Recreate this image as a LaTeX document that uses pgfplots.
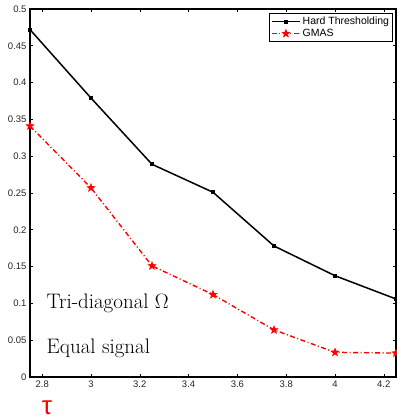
\documentclass[border=0pt]{standalone}
\usepackage{pgfplots}
\pgfplotsset{compat=1.18}
\usepackage{fontspec}
\newfontfamily\arial{Liberation Sans}
\pgfdeclareplotmark{pstar}{%
  \pgfpathmoveto{\pgfpointpolar{90}{\pgfplotmarksize}}%
  \pgfpathlineto{\pgfpointpolar{126}{0.42\pgfplotmarksize}}%
  \pgfpathlineto{\pgfpointpolar{162}{\pgfplotmarksize}}%
  \pgfpathlineto{\pgfpointpolar{198}{0.42\pgfplotmarksize}}%
  \pgfpathlineto{\pgfpointpolar{234}{\pgfplotmarksize}}%
  \pgfpathlineto{\pgfpointpolar{270}{0.42\pgfplotmarksize}}%
  \pgfpathlineto{\pgfpointpolar{306}{\pgfplotmarksize}}%
  \pgfpathlineto{\pgfpointpolar{342}{0.42\pgfplotmarksize}}%
  \pgfpathlineto{\pgfpointpolar{18}{\pgfplotmarksize}}%
  \pgfpathlineto{\pgfpointpolar{54}{0.42\pgfplotmarksize}}%
  \pgfpathclose
  \pgfusepathqfillstroke}
\begin{document}
\begin{tikzpicture}
\begin{axis}[
  scale only axis,
  width=366pt, height=368pt,
  clip=false,
  xmin=2.75, xmax=4.25, ymin=0, ymax=0.5,
  xtick={2.8,3,3.2,3.4,3.6,3.8,4,4.2},
  ytick={0,0.05,0.1,0.15,0.2,0.25,0.3,0.35,0.4,0.45,0.5},
  yticklabel style={/pgf/number format/fixed},
  xticklabel style={/pgf/number format/fixed},
  /pgf/number format/assume math mode=true,
  ticklabel style={font=\arial\fontsize{9.5}{11}\selectfont, text=black!85},
  major tick length=3pt,
  tick style={black, line width=0.6pt},
  axis line style={line width=1.2pt},
  legend style={font=\arial\fontsize{10.5}{12}\selectfont, at={(rel axis cs:0.992,0.989)}, anchor=north east,
    draw=black, line width=1pt, inner sep=1.5pt, row sep=-1pt, cells={anchor=west}},
  legend cell align=left,
  legend image code/.code={%
    \draw[#1, mark repeat=2, mark phase=2] plot coordinates {(0pt,0pt) (14pt,0pt) (28pt,0pt)};},
]
\addplot[black, line width=1.5pt, mark=square*, mark size=1.2pt] coordinates {
(2.75,0.472) (3,0.379) (3.25,0.289) (3.5,0.251) (3.75,0.178) (4,0.1376) (4.25,0.106)};
\addlegendentry{Hard Thresholding}
\addplot[red, line width=1.4pt, dash pattern=on 5pt off 2.5pt on 1pt off 2.5pt, mark=pstar, mark size=4pt, mark options={solid, fill=red, line width=0.6pt}] coordinates {
(2.75,0.341) (3,0.257) (3.25,0.151) (3.5,0.112) (3.75,0.064) (4,0.0335) (4.25,0.0325)};
\addlegendentry{GMAS}
\node[anchor=base west, font=\fontsize{21}{24}\selectfont] at (rel axis cs:0.036,0.185) {Tri-diagonal $\Omega$};
\node[anchor=base west, font=\fontsize{21}{24}\selectfont] at (rel axis cs:0.036,0.065) {Equal signal};
\end{axis}
\node[red, font=\arial\fontsize{26}{28}\selectfont, anchor=base] at ([shift={(17pt,-37pt)}]current axis.south west) {τ};
\pgfresetboundingbox
\path ([shift={(-30pt,-42pt)}]current axis.south west) rectangle ([shift={(0pt,9pt)}]current axis.north east);
\end{tikzpicture}
\end{document}
